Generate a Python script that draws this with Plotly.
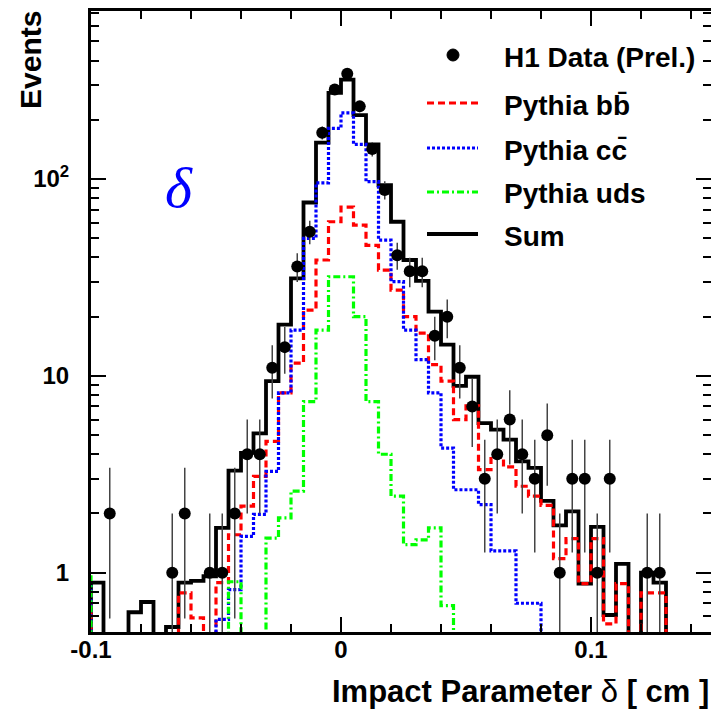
import numpy as np
import plotly.graph_objects as go

# ---------------- data (bins of width 0.005 cm from -0.1 to 0.13) ----------------
BIN_START = -0.1
BIN_W = 0.005

data_counts = [0, 2, 0, 0, 0, 0, 1, 2, 0, 1, 1, 2, 4, 4, 11, 14, 36, 54, 172, 285,
               343, 234, 142, 88, 41, 34, 34, 16, 20, 11, 7, 3, 4, 6, 4, 3, 5, 1, 3, 3,
               1, 3, 0, 0, 1, 1]

sum_vals = [0.89, 0, 0, 0.63, 0.71, 0, 0.53, 0.89, 0.91, 0.96, 1.69, 3.3, 4.06, 5.1,
            9.4, 18.2, 31.3, 76, 153, 274, 320, 211, 150, 93, 60.7, 38.8, 30.4, 21.2,
            14.4, 8.9, 9.9, 5.75, 5.33, 4.74, 3.68, 3.41, 2.32, 1.74, 2.05, 0.88, 1.71,
            0.61, 1.11, 0, 1.0, 0.89]

bb_vals = [0, 0, 0, 0, 0, 0, 0, 0.79, 0.59, 0.45, 0.89, 1.56, 2.18, 3.09, 4.65, 8.2,
           11.6, 21.6, 38.8, 60.7, 72, 58.4, 46, 34.5, 27.3, 20, 16.5, 11.4, 9.4, 6.0,
           7.05, 3.34, 3.87, 3.45, 2.75, 2.45, 2.2, 1.18, 1.49, 0.88, 1.49, 0.55, 0.88,
           0, 0.79, 0.79]

cc_vals = [0, 0, 0, 0, 0, 0, 0, 0, 0, 0, 0.58, 0.82, 1.53, 1.98, 3.27, 8.2, 17.1, 50,
           95.7, 181, 217, 150, 97, 49, 30.1, 17.1, 12.1, 8.2, 4.3, 2.64, 2.64, 2.22,
           1.29, 1.29, 0.7, 0.7, 0, 0, 0, 0, 0, 0, 0, 0, 0, 0]

uds_vals = [0, 0, 0, 0, 0, 0, 0, 0, 0, 0, 0, 0.9, 0, 0, 1.5, 1.9, 2.6, 7.4, 17.1, 31.9,
            31.9, 20, 7.4, 4.0, 2.45, 1.39, 1.47, 1.69, 0.68, 0, 0, 0, 0, 0, 0, 0, 0, 0,
            0, 0, 0, 0, 0, 0, 0, 0]

# underflow contents (bin just left of -0.1)
underflow = {"sum": 0, "bb": 0.8, "cc": 0.85, "uds": 1.0}

x_ticks = [-0.1, 0, 0.1]
x_ticktext = ["-0.1", "0", "0.1"]
y_ticks = [1, 10, 100]
y_ticktext = ["1", "10", "10<sup>2</sup>"]

# ---------------- layout geometry ----------------
W, H = 711, 710
ML, MR, MT, MB = 91, 0, 11, 78
PW, PH = W - ML - MR, H - MT - MB
FLOOR = 1e-3
FONT = "Liberation Sans"


def step_xy(vals, under):
    v = [under] + list(vals) + [0]
    n = len(v)
    edges = BIN_START - BIN_W + BIN_W * np.arange(n + 1)
    y = np.array(v + [v[-1]], dtype=float)
    y = np.where(y > 0, y, FLOOR)
    return edges, y


def P(px, py):
    return (px - ML) / PW, (H - MB - py) / PH


fig = go.Figure()

styles = [
    ("Sum", sum_vals, underflow["sum"], "black", 3.8, "solid"),
    ("Pythia bb", bb_vals, underflow["bb"], "#ff0000", 3.2, "7px,4px"),
    ("Pythia cc", cc_vals, underflow["cc"], "#0000ff", 3.2, "3px,2px"),
    ("Pythia uds", uds_vals, underflow["uds"], "#00ff00", 3.2, "7px,3px,2px,3px"),
]
for name, vals, under, col, lw, dash in styles:
    ex, ey = step_xy(vals, under)
    fig.add_trace(go.Scatter(x=ex, y=ey, mode="lines", line_shape="hv",
                             line=dict(color=col, width=lw, dash=dash),
                             name=name, showlegend=False, hoverinfo="skip"))

counts = np.array(data_counts, dtype=float)
centers = BIN_START + BIN_W * (np.arange(len(counts)) + 0.5)
mask = counts > 0
fig.add_trace(go.Scatter(
    x=centers[mask], y=counts[mask], mode="markers",
    marker=dict(color="black", size=12),
    error_y=dict(type="data", array=np.sqrt(counts[mask]), color="#444444",
                 thickness=1.5, width=0),
    name="H1 Data (Prel.)", showlegend=False))

# ---------------- manual legend ----------------
shapes = []
annotations = []
leg_x0, leg_x1, leg_tx = 427, 478, 502
rows = [
    ("H1 Data (Prel.)", 55, None),
    ("Pythia b" + "b\u0304", 103, styles[1]),
    ("Pythia c" + "c\u0304", 148, styles[2]),
    ("Pythia uds", 192, styles[3]),
    ("Sum", 234, styles[0]),
]
for text, py, st in rows:
    if st is None:
        cx0, cy0 = P(453 - 6, py - 6)
        cx1, cy1 = P(453 + 6, py + 6)
        shapes.append(dict(type="circle", xref="paper", yref="paper",
                           x0=cx0, x1=cx1, y0=cy1, y1=cy0,
                           fillcolor="black", line=dict(color="black", width=1)))
    else:
        a0, b0 = P(leg_x0, py)
        a1, _ = P(leg_x1, py)
        shapes.append(dict(type="line", xref="paper", yref="paper",
                           x0=a0, x1=a1, y0=b0, y1=b0,
                           line=dict(color=st[3], width=st[4], dash=st[5])))
    tx, ty = P(leg_tx, py + 2)
    annotations.append(dict(text="<b>" + text + "</b>", xref="paper", yref="paper",
                            x=tx, y=ty, xanchor="left", yanchor="middle",
                            showarrow=False,
                            font=dict(family=FONT, size=28, color="black")))

ex_, ey_ = P(30, 60)
annotations.append(dict(text="<b>Events</b>", xref="paper", yref="paper",
                        x=ex_, y=ey_, xanchor="center", yanchor="middle",
                        textangle=-90, showarrow=False,
                        font=dict(family=FONT, size=30, color="black")))
xt_, yt_ = P(711, 691)
annotations.append(dict(text="<b>Impact Parameter</b> δ <b>[ cm ]</b>",
                        xref="paper", yref="paper", x=xt_, y=yt_,
                        xanchor="right", yanchor="middle", showarrow=False,
                        font=dict(family=FONT, size=31, color="black")))
dx_, dy_ = P(179, 187)
annotations.append(dict(text="<i>δ</i>", xref="paper", yref="paper",
                        x=dx_, y=dy_, xanchor="center", yanchor="middle",
                        showarrow=False,
                        font=dict(family="Liberation Serif", size=58, color="#0000ff")))

minor_y = [v * 10 ** e for e in range(-1, 3) for v in range(2, 10)]
minor_y = [m for m in minor_y if 0.5 <= m <= 714 and m not in (1, 10, 100)]

tickfont = dict(family=FONT, size=24, color="black", weight="bold")

fig.update_layout(
    width=W, height=H,
    margin=dict(l=ML, r=MR, t=MT, b=MB, pad=0),
    paper_bgcolor="white", plot_bgcolor="white",
    template=None,
    showlegend=False,
    shapes=shapes, annotations=annotations,
    xaxis=dict(range=[-0.1, -0.1 + PW / 2500.0], showgrid=False, zeroline=False,
               showline=True, linecolor="black", linewidth=3, mirror="ticks",
               tickmode="array", tickvals=x_ticks, ticktext=x_ticktext,
               ticks="inside", ticklen=15, tickwidth=1.5, tickcolor="black",
               minor=dict(ticks="inside", tickmode="linear", tick0=0, dtick=0.02,
                          ticklen=8, tickwidth=1.5, tickcolor="black"),
               tickfont=tickfont, ticklabelstandoff=-6, automargin=False),
    yaxis=dict(type="log", range=[np.log10(0.5), np.log10(714)], showgrid=False,
               zeroline=False, showline=True, linecolor="black", linewidth=3,
               mirror="ticks", tickmode="array", tickvals=y_ticks,
               ticktext=y_ticktext, ticks="inside", ticklen=15, tickwidth=1.5,
               tickcolor="black",
               minor=dict(ticks="inside", tickmode="array", tickvals=minor_y,
                          ticklen=8, tickwidth=1.5, tickcolor="black"),
               tickfont=tickfont, ticklabelstandoff=14, automargin=False),
)

fig.write_html("out.html")
